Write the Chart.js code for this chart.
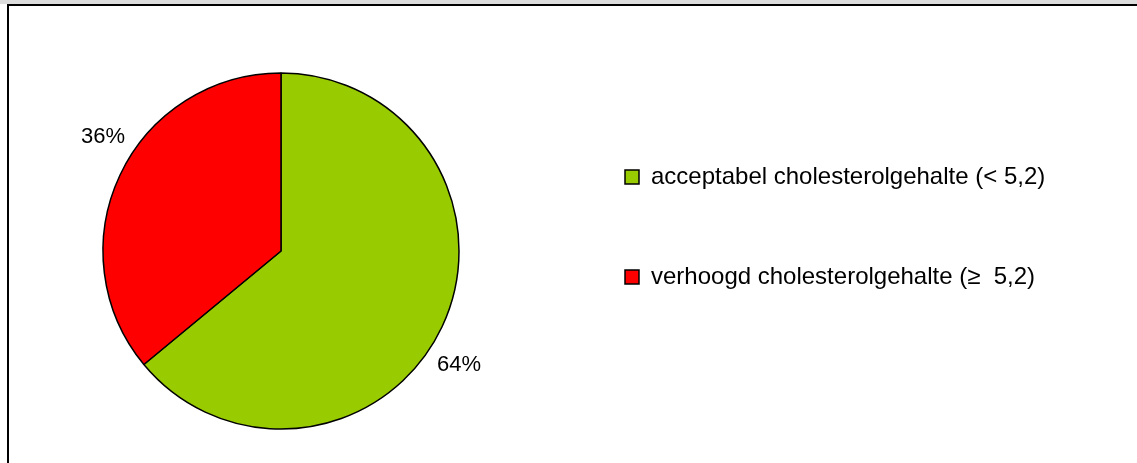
<!DOCTYPE html>
<html>
<head>
<meta charset="utf-8">
<script src="https://cdn.jsdelivr.net/npm/chart.js@4/dist/chart.umd.min.js"></script>
<style>
  html, body { margin: 0; padding: 0; background: #fff; }
  body { width: 1137px; height: 463px; position: relative; overflow: hidden; }
  #topband { position: absolute; left: 0; top: 0; width: 1137px; height: 4px; background: #dcdcdc; }
  #frame { position: absolute; left: 7px; top: 4px; right: -10px; bottom: -10px;
           border-top: 2px solid #000; border-left: 2px solid #000; }
  #chart { position: absolute; left: 0; top: 0; }
</style>
</head>
<body>
<div id="topband"></div>
<div id="frame"></div>
<canvas id="chart" width="1137" height="463"></canvas>
<script>
// chart data
const categories = [
  "acceptabel cholesterolgehalte (< 5,2)",
  "verhoogd cholesterolgehalte (\u2265  5,2)",
];
const shares = [64, 36];
const sliceColors = ["#99cc00", "#ff0000"];

const FONT_FAMILY = "'Liberation Sans', Arial, sans-serif";
const LEGEND_SIZE = 24;
const LABEL_SIZE = 22;
const LEGEND_PAD = 76;
const BOX = 14;

// legend sits right of the pie; work out right padding so the boxes land at x=625
const measure = document.createElement("canvas").getContext("2d");
measure.font = `${LEGEND_SIZE}px ${FONT_FAMILY}`;
const textW = Math.max(...categories.map((c) => measure.measureText(c).width));
const legendW = LEGEND_PAD + BOX + LEGEND_SIZE / 2 + textW + 10;
const padRight = 1137 - (625 - LEGEND_PAD) - legendW;

// percentage labels just outside the slices
const pctLabels = {
  id: "pctLabels",
  afterDatasetsDraw(chart) {
    const { ctx } = chart;
    const meta = chart.getDatasetMeta(0);
    const total = shares.reduce((a, b) => a + b, 0);
    ctx.save();
    ctx.font = `${LABEL_SIZE}px ${FONT_FAMILY}`;
    ctx.fillStyle = "#000";
    ctx.textAlign = "center";
    ctx.textBaseline = "middle";
    meta.data.forEach((arc, i) => {
      const { x, y, startAngle, endAngle, outerRadius } = arc.getProps(
        ["x", "y", "startAngle", "endAngle", "outerRadius"], true);
      const a = (startAngle + endAngle) / 2 + 0.13;
      const r = outerRadius * 1.188;
      const txt = Math.round((shares[i] / total) * 100) + "%";
      ctx.fillText(txt, x + Math.cos(a) * r, y + Math.sin(a) * r);
    });
    ctx.restore();
  },
};

new Chart(document.getElementById("chart").getContext("2d"), {
  type: "pie",
  data: {
    labels: categories,
    datasets: [
      {
        data: shares,
        backgroundColor: sliceColors,
        borderColor: "#000",
        borderWidth: 1.5,
        radius: 178,
      },
    ],
  },
  options: {
    responsive: false,
    animation: false,
    events: [],
    layout: {
      padding: { left: 13, top: 89, bottom: 50, right: padRight },
    },
    plugins: {
      tooltip: { enabled: false },
      legend: {
        position: "right",
        align: "start",
        labels: {
          boxWidth: BOX,
          boxHeight: BOX,
          padding: LEGEND_PAD,
          color: "#000",
          font: { size: LEGEND_SIZE, family: FONT_FAMILY },
        },
      },
    },
  },
  plugins: [pctLabels],
});
</script>
</body>
</html>
